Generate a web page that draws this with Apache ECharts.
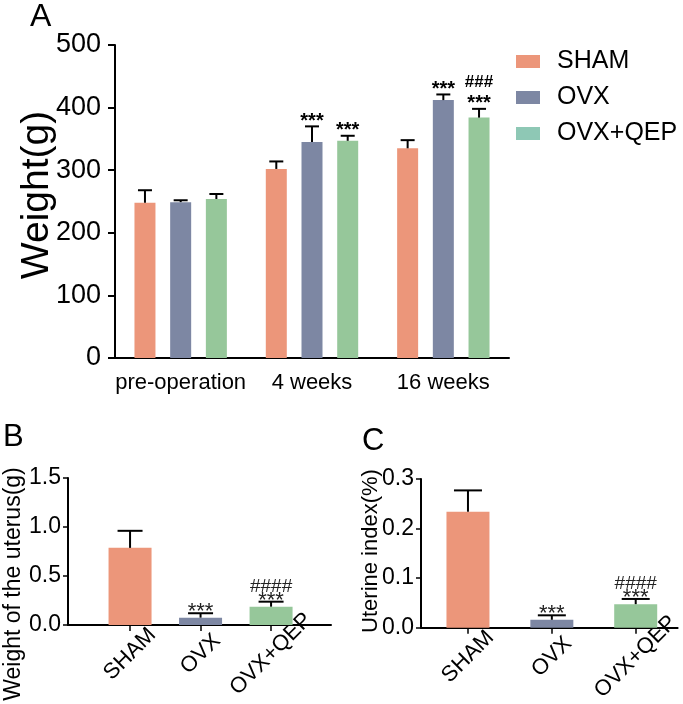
<!DOCTYPE html>
<html><head><meta charset="utf-8">
<script src="https://cdn.jsdelivr.net/npm/echarts@6/dist/echarts.min.js"></script>
<style>html,body{margin:0;padding:0;background:#fff}#c{width:683px;height:704px}</style>
</head><body><div id="c"></div>
<script>
// ---- Panel A data ----
const aCategories = ['pre-operation', '4 weeks', '16 weeks'];
const aSeriesNames = ['SHAM', 'OVX', 'OVX+QEP'];
const aSham = [248, 302, 335];
const aShamErr = [268, 314, 348];
const aOvx = [249, 345, 412];
const aOvxErr = [252, 370, 421];
const aQep = [254, 347, 384];
const aQepErr = [262, 355, 398];
const aStarsSham = ['', '', ''];
const aStarsOvx = ['', '***', '***'];
const aStarsQep = ['', '***', '***'];
const aHashQep = ['', '', '###'];
const aYTicks = [0, 100, 200, 300, 400, 500];
// ---- Panel B data ----
const bCategories = ['SHAM', 'OVX', 'OVX+QEP'];
const bValues = [0.787, 0.075, 0.187];
const bErr = [0.961, 0.12, 0.238];
const bStars = ['', '***', '***'];
const bHash = ['', '', '####'];
const bYTicks = [0, 0.5, 1.0, 1.5];
// ---- Panel C data ----
const cCategories = ['SHAM', 'OVX', 'OVX+QEP'];
const cValues = [0.234, 0.016, 0.0475];
const cErr = [0.277, 0.025, 0.058];
const cStars = ['', '***', '***'];
const cHash = ['', '', '####'];
const cYTicks = [0, 0.1, 0.2, 0.3];

const colors = ['#EC967A', '#7D87A3', '#96C79A'];
const legendColors = ['#EC967A', '#7D87A3', '#8EC8B5'];
const SANS = '"Liberation Sans", Arial, sans-serif';

const chart = echarts.init(document.getElementById('c'), null, {renderer: 'canvas'});

function errRenderer(vals, errs, stars, hashes, offset, capW, opts) {
  return function (params, api) {
    const i = params.dataIndex;
    const top = api.coord([api.value(0), errs[i]]);
    const base = api.coord([api.value(0), vals[i]]);
    const x = top[0] + offset;
    const children = [
      {type: 'line', shape: {x1: x, y1: base[1], x2: x, y2: top[1]}, style: {stroke: '#000', lineWidth: 2}},
      {type: 'line', shape: {x1: x - capW / 2, y1: top[1], x2: x + capW / 2, y2: top[1]}, style: {stroke: '#000', lineWidth: 2}}
    ];
    if (stars[i]) children.push({type: 'text', style: {text: stars[i], x: x, y: top[1] + opts.starDy, align: 'center', verticalAlign: 'middle', fontSize: opts.starSize, fontWeight: opts.starWeight, fontFamily: SANS, fill: opts.textColor}});
    if (hashes[i]) children.push({type: 'text', style: {text: hashes[i], x: x, y: top[1] + opts.hashDy, align: 'center', verticalAlign: 'middle', fontSize: opts.hashSize, fontWeight: opts.hashWeight, fontFamily: SANS, fill: opts.textColor}});
    return {type: 'group', children: children};
  };
}

const offA = 21 * 1.7;
const optA = {starDy: -5, starSize: 20, starWeight: 'bold', hashDy: -27, hashSize: 17, hashWeight: 'bold', textColor: '#000'};
const optBC = {starDy: -1, starSize: 22, starWeight: 'normal', hashDy: -15, hashSize: 19, hashWeight: 'normal', textColor: '#222'};

function smallXAxis(idx, min, max, cats) {
  return {gridIndex: idx, type: 'value', min: min, max: max,
    axisLine: {lineStyle: {color: '#000', width: 2}},
    axisTick: {show: true, customValues: [1, 2, 3], length: 6, lineStyle: {color: '#000', width: 1.5}},
    axisLabel: {customValues: [1, 2, 3], formatter: v => cats[Math.round(v) - 1], rotate: 45,
      align: 'center', verticalAlign: 'middle', fontSize: 22, fontFamily: SANS, color: '#000', margin: 29},
    splitLine: {show: false}};
}

const option = {
  animation: false,
  backgroundColor: '#fff',
  grid: [
    {left: 115, top: 45, width: 394, height: 313},
    {left: 68, top: 478, width: 263, height: 147},
    {left: 421, top: 479, width: 257, height: 150}
  ],
  legend: {
    orient: 'vertical', left: 516, top: 49, padding: 0, itemWidth: 24, itemHeight: 13, itemGap: 11,
    selectedMode: false, icon: 'rect',
    textStyle: {fontSize: 25, fontFamily: SANS, color: '#000', padding: [0, 0, 0, 12]},
    data: aSeriesNames.map((n, k) => ({name: n, itemStyle: {color: legendColors[k]}}))
  },
  xAxis: [
    {gridIndex: 0, type: 'category', data: aCategories, boundaryGap: true,
     axisLine: {lineStyle: {color: '#000', width: 2}},
     axisTick: {alignWithLabel: true, length: 8, lineStyle: {color: '#000', width: 2}},
     axisLabel: {interval: 0, fontSize: 22, fontFamily: SANS, color: '#000', margin: 14},
     splitLine: {show: false}},
    smallXAxis(1, 0.12, 3.85, bCategories),
    smallXAxis(2, 0.44, 3.5, cCategories)
  ],
  yAxis: [
    {gridIndex: 0, type: 'value', min: aYTicks[0], max: aYTicks[aYTicks.length - 1], interval: 100,
     axisLine: {show: true, lineStyle: {color: '#000', width: 2}},
     axisTick: {show: true, length: 7, lineStyle: {color: '#000', width: 2}},
     axisLabel: {fontSize: 27, fontFamily: SANS, color: '#000', margin: 14},
     splitLine: {show: false}},
    {gridIndex: 1, type: 'value', min: bYTicks[0], max: bYTicks[bYTicks.length - 1], interval: 0.5,
     axisLine: {show: true, lineStyle: {color: '#000', width: 2}},
     axisTick: {show: true, length: 5, lineStyle: {color: '#000', width: 1.5}},
     axisLabel: {fontSize: 23, fontFamily: SANS, color: '#000', margin: 7, formatter: v => v.toFixed(1)},
     splitLine: {show: false}},
    {gridIndex: 2, type: 'value', min: cYTicks[0], max: cYTicks[cYTicks.length - 1], interval: 0.1,
     axisLine: {show: true, lineStyle: {color: '#000', width: 2}},
     axisTick: {show: true, length: 5, lineStyle: {color: '#000', width: 1.5}},
     axisLabel: {fontSize: 23, fontFamily: SANS, color: '#000', margin: 7, formatter: v => v.toFixed(1)},
     splitLine: {show: false}}
  ],
  graphic: [
    {type: 'text', x: 30, y: 17, style: {text: 'A', fontSize: 32, fontFamily: SANS, fill: '#000', align: 'left', verticalAlign: 'middle'}},
    {type: 'text', x: 3, y: 437, style: {text: 'B', fontSize: 31, fontFamily: SANS, fill: '#000', align: 'left', verticalAlign: 'middle'}},
    {type: 'text', x: 362, y: 441, style: {text: 'C', fontSize: 31, fontFamily: SANS, fill: '#000', align: 'left', verticalAlign: 'middle'}},
    {type: 'text', x: 37, y: 195, rotation: Math.PI / 2, style: {text: 'Weight(g)', fontSize: 39, fontFamily: SANS, fill: '#000', align: 'center', verticalAlign: 'middle'}},
    {type: 'text', x: 14, y: 584, rotation: Math.PI / 2, style: {text: 'Weight of the uterus(g)', fontSize: 23, fontFamily: SANS, fill: '#000', align: 'center', verticalAlign: 'middle'}},
    {type: 'text', x: 371, y: 551, rotation: Math.PI / 2, style: {text: 'Uterine index(%)', fontSize: 22, fontFamily: SANS, fill: '#000', align: 'center', verticalAlign: 'middle'}}
  ],
  series: [
    {name: 'SHAM', type: 'bar', xAxisIndex: 0, yAxisIndex: 0, data: aSham, barWidth: 21, barGap: '70%', itemStyle: {color: colors[0]}},
    {name: 'OVX', type: 'bar', xAxisIndex: 0, yAxisIndex: 0, data: aOvx, barWidth: 21, barGap: '70%', itemStyle: {color: colors[1]}},
    {name: 'OVX+QEP', type: 'bar', xAxisIndex: 0, yAxisIndex: 0, data: aQep, barWidth: 21, barGap: '70%', itemStyle: {color: colors[2]}},
    {type: 'custom', xAxisIndex: 0, yAxisIndex: 0, data: aCategories.map((c, i) => [i, aShamErr[i]]), renderItem: errRenderer(aSham, aShamErr, aStarsSham, ['', '', ''], -offA, 14, optA), z: 5},
    {type: 'custom', xAxisIndex: 0, yAxisIndex: 0, data: aCategories.map((c, i) => [i, aOvxErr[i]]), renderItem: errRenderer(aOvx, aOvxErr, aStarsOvx, ['', '', ''], 0, 14, optA), z: 5},
    {type: 'custom', xAxisIndex: 0, yAxisIndex: 0, data: aCategories.map((c, i) => [i, aQepErr[i]]), renderItem: errRenderer(aQep, aQepErr, aStarsQep, aHashQep, offA, 14, optA), z: 5},
    {type: 'bar', xAxisIndex: 1, yAxisIndex: 1, barWidth: 43,
     data: bValues.map((v, i) => ({value: [i + 1, v], itemStyle: {color: colors[i]}}))},
    {type: 'custom', xAxisIndex: 1, yAxisIndex: 1, data: bValues.map((v, i) => [i + 1, bErr[i]]), renderItem: errRenderer(bValues, bErr, bStars, bHash, 0, 25, optBC), z: 5},
    {type: 'bar', xAxisIndex: 2, yAxisIndex: 2, barWidth: 43,
     data: cValues.map((v, i) => ({value: [i + 1, v], itemStyle: {color: colors[i]}}))},
    {type: 'custom', xAxisIndex: 2, yAxisIndex: 2, data: cValues.map((v, i) => [i + 1, cErr[i]]), renderItem: errRenderer(cValues, cErr, cStars, cHash, 0, 28, optBC), z: 5}
  ]
};
chart.setOption(option);
</script></body></html>
